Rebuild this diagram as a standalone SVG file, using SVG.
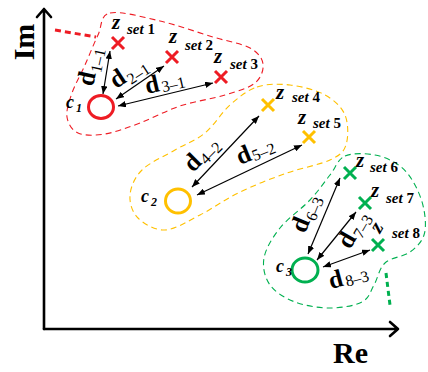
<svg xmlns="http://www.w3.org/2000/svg" width="428" height="372" viewBox="0 0 428 372">
<defs>
<marker id="ah" viewBox="0 0 10 8" refX="10" refY="4" markerWidth="8" markerHeight="6.4" markerUnits="userSpaceOnUse" orient="auto-start-reverse"><path d="M0,0 L10,4 L0,8 Z" fill="#000"/></marker>
</defs>
<style>
.ax{stroke:#000;stroke-width:2.6;fill:none;stroke-linecap:round;stroke-linejoin:round}
.blob{fill:none;stroke-width:1.1;stroke-dasharray:6,4}
.conn{stroke:#000;stroke-width:1.2;fill:none;marker-start:url(#ah);marker-end:url(#ah)}
.x{stroke-width:3;fill:none}
.ring{fill:none;stroke-width:3}
.red{stroke:#ee1c24}.yel{stroke:#ffc000}.grn{stroke:#00b050}
text{font-family:"Liberation Serif","Times New Roman",serif;fill:#000}
.big{font-size:30px;font-weight:bold}
.z{font-size:21px;font-weight:bold;font-style:italic}
.set{font-size:15px;font-weight:bold;font-style:italic}
.num{font-style:normal}
.c{font-size:18px;font-weight:bold;font-style:italic}
.cs{font-size:12px;font-weight:bold}
.d{font-size:25px;font-weight:bold}
.sub{font-size:16px;font-weight:normal}
</style>
<rect width="428" height="372" fill="#fff"/>
<g id="axes">
<path class="ax" d="M44,329 V9 M37,17 L44,9 L51,17"/>
<path class="ax" d="M44,329 H398 M390,322 L398,329 L390,336"/>
<text class="big" transform="translate(34,42) rotate(-90)" text-anchor="middle">Im</text>
<text class="big" x="333" y="363">Re</text>
</g>
<g id="cluster1">
<path class="blob red" d="M110,13 C120.3,10.7 142.8,17 160,21 C177.2,25 198,32.5 213,37 C228,41.5 241.7,43.5 250,48 C258.3,52.5 262.2,58.2 263,64 C263.8,69.8 261.3,77.8 255,83 C248.7,88.2 237.5,91.2 225,95 C212.5,98.8 194.2,101.3 180,106 C165.8,110.7 152.5,118.3 140,123 C127.5,127.7 115.3,132.3 105,134 C94.7,135.7 84.3,135.8 78,133 C71.7,130.2 68,123.7 67,117 C66,110.3 69,101.7 72,93 C75,84.3 80.7,74.7 85,65 C89.3,55.3 93.8,43.7 98,35 C102.2,26.3 99.7,15.3 110,13 Z"/>
<path d="M55,30 L96,37" stroke="#ee1c24" stroke-width="3" stroke-dasharray="6,4" fill="none"/>
</g>
<g id="cluster2">
<path class="blob yel" d="M257,87 C267,83.7 278.7,83.7 290,85 C301.3,86.3 315.8,90 325,95 C334.2,100 341.5,106.7 345,115 C348.5,123.3 348.5,137.5 346,145 C343.5,152.5 339.8,155.3 330,160 C320.2,164.7 302,167.7 287,173 C272,178.3 254.5,185 240,192 C225.5,199 212.5,208.7 200,215 C187.5,221.3 175.3,229.5 165,230 C154.7,230.5 143.8,223.8 138,218 C132.2,212.2 129.3,203 130,195 C130.7,187 134.5,177.5 142,170 C149.5,162.5 164.5,156.2 175,150 C185.5,143.8 195.8,140.5 205,133 C214.2,125.5 221.3,112.7 230,105 C238.7,97.3 247,90.3 257,87 Z"/>
</g>
<g id="cluster3">
<path class="blob grn" d="M345,156 C352.5,152.7 365.8,153.3 375,155 C384.2,156.7 393.3,161 400,166 C406.7,171 411,177.7 415,185 C419,192.3 422.5,201.7 424,210 C425.5,218.3 426.3,228 424,235 C421.7,242 416.5,247.3 410,252 C403.5,256.7 391,257.5 385,263 C379,268.5 377.8,278.5 374,285 C370.2,291.5 369.3,298.2 362,302 C354.7,305.8 341.2,308 330,308 C318.8,308 305,305.8 295,302 C285,298.2 275.2,292.3 270,285 C264.8,277.7 262.3,267.5 264,258 C265.7,248.5 272.3,237.7 280,228 C287.7,218.3 301.7,208.8 310,200 C318.3,191.2 324.2,182.3 330,175 C335.8,167.7 337.5,159.3 345,156 Z"/>
<path d="M386,273 L390,305" stroke="#00b050" stroke-width="3" stroke-dasharray="5,4" fill="none"/>
</g>
<g id="connectors">
<line class="conn" x1="103" y1="94" x2="110" y2="51"/>
<line class="conn" x1="116" y1="99" x2="164" y2="66"/>
<line class="conn" x1="118" y1="106" x2="213" y2="83"/>
<line class="conn" x1="192" y1="187" x2="259" y2="116"/>
<line class="conn" x1="197" y1="195" x2="302" y2="145"/>
<line class="conn" x1="308" y1="254" x2="340" y2="178"/>
<line class="conn" x1="317" y1="260" x2="356" y2="212"/>
<line class="conn" x1="323" y1="267" x2="370" y2="250"/>
</g>
<g id="c1">
<ellipse class="ring red" cx="101" cy="107" rx="12.5" ry="11.5"/>
<text class="c" x="66" y="108">c<tspan class="cs" dx="2" dy="4">1</tspan></text>
</g>
<g id="c2">
<ellipse class="ring yel" cx="178" cy="201" rx="12.5" ry="12"/>
<text class="c" x="141" y="202">c<tspan class="cs" dx="2" dy="4">2</tspan></text>
</g>
<g id="c3">
<ellipse class="ring grn" cx="305" cy="270" rx="13" ry="12"/>
<text class="c" x="276" y="272">c<tspan class="cs" dx="2" dy="4">3</tspan></text>
</g>
<g id="zset1">
<path class="x red" d="M112,37 L124,49 M124,37 L112,49"/>
<text class="z" x="112" y="29">z</text>
<text class="set" x="127" y="34">set <tspan class="num">1</tspan></text>
</g>
<g id="zset2">
<path class="x red" d="M166,51 L178,63 M178,51 L166,63"/>
<text class="z" x="169" y="43">z</text>
<text class="set" x="185" y="50">set <tspan class="num">2</tspan></text>
</g>
<g id="zset3">
<path class="x red" d="M215,71 L227,83 M227,71 L215,83"/>
<text class="z" x="214" y="63">z</text>
<text class="set" x="230" y="69">set <tspan class="num">3</tspan></text>
</g>
<g id="zset4">
<path class="x yel" d="M262,99 L274,111 M274,99 L262,111"/>
<text class="z" x="276" y="99">z</text>
<text class="set" x="292" y="102">set <tspan class="num">4</tspan></text>
</g>
<g id="zset5">
<path class="x yel" d="M303,131 L315,143 M315,131 L303,143"/>
<text class="z" x="298" y="124">z</text>
<text class="set" x="313" y="128">set <tspan class="num">5</tspan></text>
</g>
<g id="zset6">
<path class="x grn" d="M344,167 L356,179 M356,167 L344,179"/>
<text class="z" x="356" y="167">z</text>
<text class="set" x="370" y="172">set <tspan class="num">6</tspan></text>
</g>
<g id="zset7">
<path class="x grn" d="M359,197 L371,209 M371,197 L359,209"/>
<text class="z" x="371" y="197">z</text>
<text class="set" x="386" y="203">set <tspan class="num">7</tspan></text>
</g>
<g id="zset8">
<path class="x grn" d="M372,239 L384,251 M384,239 L372,251"/>
<text class="z" transform="translate(380,234) rotate(-60)">z</text>
<text class="set" x="392" y="238">set <tspan class="num">8</tspan></text>
</g>
<g id="labels">
<text class="d" transform="translate(93,87) rotate(-78)">d<tspan class="sub" dx="1" dy="5">1–1</tspan></text>
<text class="d" transform="translate(116,89) rotate(-33)">d<tspan class="sub" dx="1" dy="5">2–1</tspan></text>
<text class="d" transform="translate(147,94) rotate(-13)">d<tspan class="sub" dx="2" dy="2">3–1</tspan></text>
<text class="d" transform="translate(193,173) rotate(-45)">d<tspan class="sub" dx="1" dy="4">4–2</tspan></text>
<text class="d" transform="translate(240,165) rotate(-22)">d<tspan class="sub" dx="1" dy="2">5–2</tspan></text>
<text class="d" transform="translate(305,234) rotate(-68)">d<tspan class="sub" dx="1" dy="5">6–3</tspan></text>
<text class="d" transform="translate(350,250) rotate(-60)">d<tspan class="sub" dx="1" dy="5">7–3</tspan></text>
<text class="d" transform="translate(331,289) rotate(-15)">d<tspan class="sub" dx="2" dy="2">8–3</tspan></text>
</g>
</svg>
